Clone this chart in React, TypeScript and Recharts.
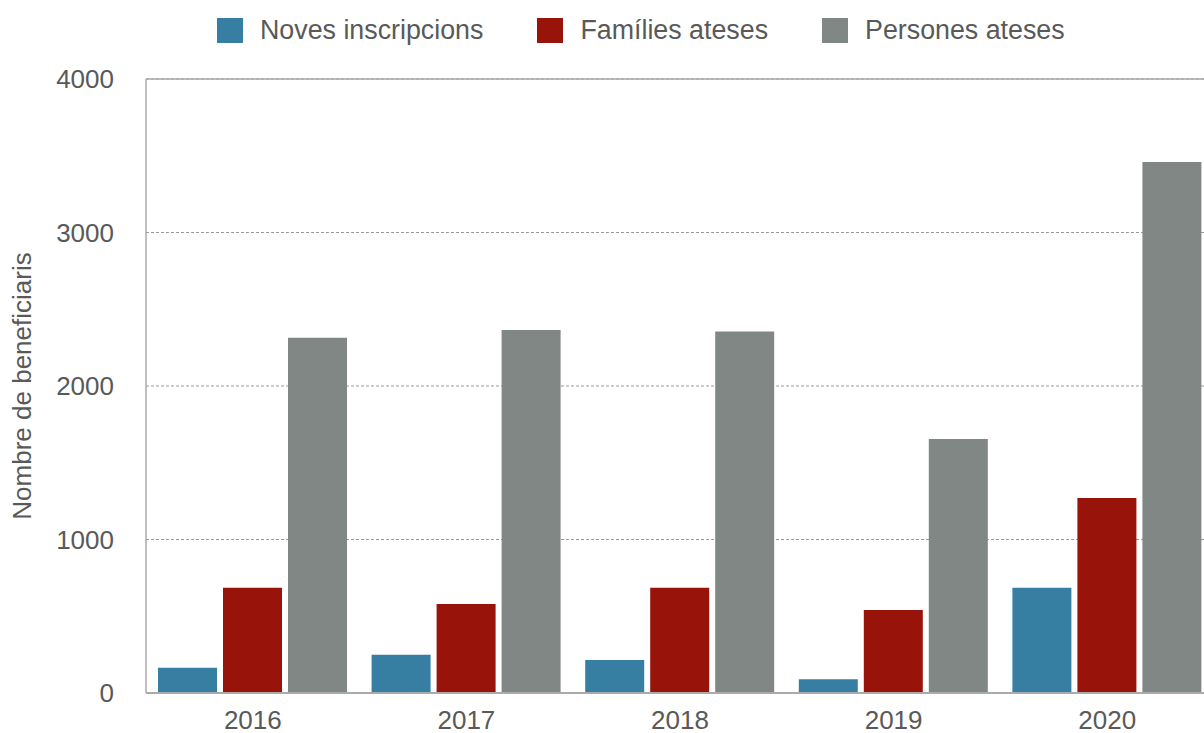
import { Bar, BarChart, CartesianGrid, ReferenceLine, XAxis, YAxis } from "recharts";

const years = ["2016", "2017", "2018", "2019", "2020"];
const novesInscripcions = [165, 250, 215, 90, 685];
const familiesAteses = [685, 580, 685, 540, 1270];
const personesAteses = [2315, 2365, 2355, 1655, 3460];
const yTicks = [0, 1000, 2000, 3000, 4000];

const series = [
  { key: "noves", name: "Noves inscripcions", color: "#367fa2" },
  { key: "families", name: "Famílies ateses", color: "#98140b" },
  { key: "persones", name: "Persones ateses", color: "#808784" },
];

const data = years.map((year, i) => ({
  year,
  noves: novesInscripcions[i],
  families: familiesAteses[i],
  persones: personesAteses[i],
}));

const font = "'Liberation Sans', Arial, Helvetica, sans-serif";
const textColor = "#595959";

export default function App() {
  return (
    <div style={{ position: "absolute", left: 0, top: 0, width: 1204, height: 733, overflow: "hidden", background: "#fff", fontFamily: font }}>
      <div style={{ position: "absolute", left: 217, top: 17, display: "flex", alignItems: "center", height: 26 }}>
        {series.map((s) => (
          <div key={s.key} style={{ display: "flex", alignItems: "center", marginRight: 54 }}>
            <span style={{ width: 26, height: 25, background: s.color, display: "inline-block", marginRight: 17 }} />
            <span style={{ fontSize: 26.8, color: textColor, lineHeight: "26px" }}>{s.name}</span>
          </div>
        ))}
      </div>
      <BarChart
        width={1214}
        height={733}
        data={data}
        margin={{ top: 79, right: 0, bottom: 0, left: 0 }}
        barSize={59}
        barGap={6}
        style={{ position: "absolute", left: 0, top: 0 }}
      >
        <CartesianGrid vertical={false} stroke="#999" strokeDasharray="3 2" />
        <XAxis
          dataKey="year"
          height={40}
          tickLine={false}
          tickMargin={12}
          axisLine={{ stroke: "#aaa", strokeWidth: 2 }}
          tick={{ fill: textColor, fontSize: 26, fontFamily: font }}
        />
        <YAxis
          width={146}
          domain={[0, 4000]}
          ticks={yTicks}
          tickLine={false}
          tickMargin={26}
          axisLine={{ stroke: "#aaa", strokeWidth: 1.5 }}
          tick={{ fill: textColor, fontSize: 26, fontFamily: font }}
          label={{
            value: "Nombre de beneficiaris",
            angle: -90,
            position: "insideLeft",
            offset: 22,
            style: { fill: textColor, fontSize: 26, fontFamily: font, textAnchor: "middle" },
          }}
        />
        <ReferenceLine y={4000} stroke="#aaa" strokeWidth={1.5} />
        {series.map((s) => (
          <Bar key={s.key} dataKey={s.key} name={s.name} fill={s.color} isAnimationActive={false} />
        ))}
      </BarChart>
    </div>
  );
}
